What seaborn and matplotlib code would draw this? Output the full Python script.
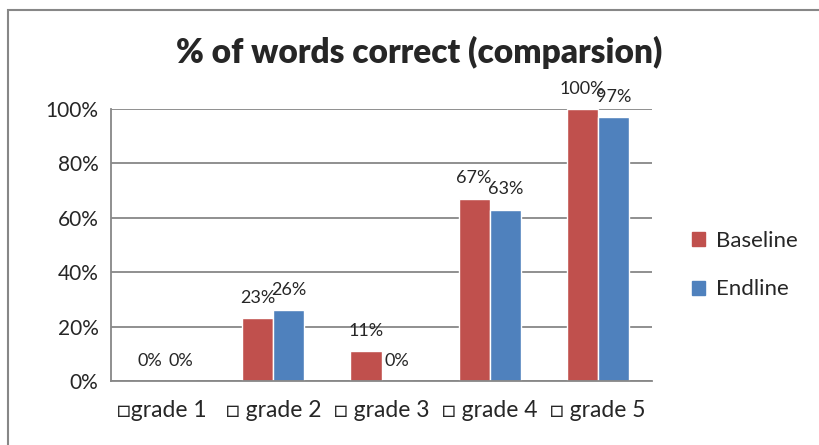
import pandas as pd
import matplotlib.pyplot as plt
import matplotlib.patches as mpatches
import seaborn as sns

grades = ['\u25a1grade 1 ', '\u25a1 grade 2', '\u25a1 grade 3', '\u25a1 grade 4', '\u25a1 grade 5']
baseline = [0.00, 0.23, 0.11, 0.67, 1.00]
endline = [0.00, 0.26, 0.00, 0.63, 0.97]
series = ['Baseline', 'Endline']
colores = ['#C0504D', '#4F81BD']

df = pd.DataFrame({'grade': grades * 2,
                   'valor': baseline + endline,
                   'serie': [series[0]] * 5 + [series[1]] * 5})

sns.set_style('white')
plt.rcParams['font.family'] = ['Lato', 'DejaVu Sans']

fig = plt.figure(figsize=(8.2, 4.45), dpi=100)
ax = fig.add_axes([111/820, 1 - 381/445, 541/820, 272/445])

sns.barplot(data=df, x='grade', y='valor', hue='serie', palette=colores,
            saturation=1, width=0.574, ax=ax, legend=False)

for cont, vals in zip(ax.containers, [baseline, endline]):
    ax.bar_label(cont, labels=[f'{round(v*100)}%' for v in vals], padding=9, fontsize=13)

ax.set_ylim(0, 1.0)
ax.set_yticks([0, 0.2, 0.4, 0.6, 0.8, 1.0])
ax.set_yticklabels(['0%', '20%', '40%', '60%', '80%', '100%'])
ax.set_xlabel('')
ax.set_ylabel('')
ax.tick_params(axis='both', length=0, labelsize=15)
ax.tick_params(axis='x', pad=14, labelsize=16.5)
ax.tick_params(axis='y', pad=9)
ax.yaxis.grid(True, color='#878787', linewidth=1.3)
ax.set_axisbelow(True)
for s in ['top', 'right']:
    ax.spines[s].set_visible(False)
for s in ['left', 'bottom']:
    ax.spines[s].set_color('#878787')
    ax.spines[s].set_linewidth(1.3)

fig.text(0.511, 1 - 52/445, '% of words correct (comparsion)', ha='center', va='center',
         fontsize=24, fontweight='heavy')

handles = [mpatches.Patch(color=c, label=l) for c, l in zip(colores, series)]
fig.legend(handles=handles, loc='center left', bbox_to_anchor=(672/820, 1 - 265/445),
           frameon=False, fontsize=16, handlelength=0.6, handleheight=0.6,
           handletextpad=0.5, labelspacing=1.3)

borde = mpatches.Rectangle((8/820, -0.1), 1.2, 1.1 - 10/445, transform=fig.transFigure,
                           fill=False, edgecolor='#878787', linewidth=1.5, clip_on=False)
fig.patches.append(borde)

plt.savefig('out.png', dpi=100)
